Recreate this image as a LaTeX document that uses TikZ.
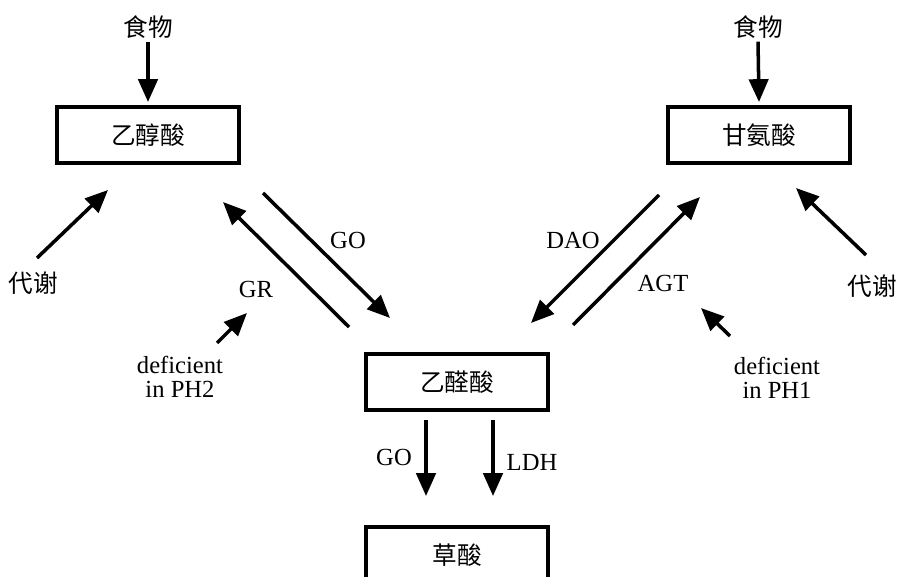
\documentclass[tikz,border=0pt]{standalone}
\usepackage{fontspec}
\setmainfont{Liberation Serif}
\newfontfamily\cjk{Noto Sans CJK SC}
\usetikzlibrary{arrows.meta}

\tikzset{
  acide/.style={draw, line width=1.8pt, minimum width=3.64cm, minimum height=1.12cm, inner sep=0pt, font=\cjk\fontsize{14}{16}\selectfont},
  chinois/.style={font=\cjk\fontsize{14}{16}\selectfont},
  fleche/.style={line width=2pt, -{Triangle[length=13pt, width=11pt]}},
  lab/.style={font=\fontsize{14}{14}\selectfont}
}

\begin{document}
\begin{tikzpicture}[x=0.02cm, y=-0.02cm, every node/.style={lab}]
        \useasboundingbox (0,0) rectangle (898,577);

        % Boites des acides
        \node[acide] (glycolique) at (148,135) {乙醇酸};
        \node[acide] (glycine) at (759,135) {甘氨酸};
        \node[acide] (glyoxylique) at (457,382) {乙醛酸};
        \node[acide] (oxalique) at (457,555) {草酸};

        % Apports alimentaires
        \node[chinois] (nourG) at (148,27) {食物};
        \node[chinois] (nourD) at (758,27) {食物};
        \draw[fleche] (nourG.south) ++(0,-3) -- (glycolique.north |- 0,102);
        \draw[fleche] (nourD.south) ++(0,-3) -- (glycine.north |- 0,102);

        % Metabolisme
        \node[chinois] (metaG) at (33,283) {代谢};
        \node[chinois] (metaD) at (872,286) {代谢};
        \coordinate (metaGa) at (37,258);
        \coordinate (metaGb) at (108,190);
        \coordinate (metaDa) at (866,255);
        \coordinate (metaDb) at (796,188);
        \draw[fleche] (metaGa) -- (metaGb);
        \draw[fleche] (metaDa) -- (metaDb);

        % Cote gauche : GO et GR
        \coordinate (goA) at (263,193);
        \coordinate (goB) at (390,318);
        \coordinate (grA) at (349,327);
        \coordinate (grB) at (223,202);
        \draw[fleche] (goA) -- (goB);
        \draw[fleche] (grA) -- (grB);
        \node (GO) at (348,240) {GO};
        \node (GR) at (256,289) {GR};

        % Cote droit : DAO et AGT
        \coordinate (daoA) at (659,195);
        \coordinate (daoB) at (531,323);
        \coordinate (agtA) at (573,325);
        \coordinate (agtB) at (700,197);
        \draw[fleche] (daoA) -- (daoB);
        \draw[fleche] (agtA) -- (agtB);
        \node (DAO) at (573,240) {DAO};
        \node (AGT) at (663,283) {AGT};

        % Deficits PH2 et PH1
        \node[align=center] (ph2) at (180,377) {deficient\\in PH2};
        \node[align=center] (ph1) at (777,378) {deficient\\in PH1};
        \coordinate (ph2a) at (217,343);
        \coordinate (ph2b) at (247,313);
        \coordinate (ph1a) at (730,336);
        \coordinate (ph1b) at (701,308);
        \draw[fleche] (ph2a) -- (ph2b);
        \draw[fleche] (ph1a) -- (ph1b);

        % Vers l'acide oxalique
        \draw[fleche] (426,420) -- (426,496);
        \draw[fleche] (493,420) -- (493,496);
        \node (GObas) at (394,457) {GO};
        \node (LDH) at (532,462) {LDH};
\end{tikzpicture}
\end{document}
